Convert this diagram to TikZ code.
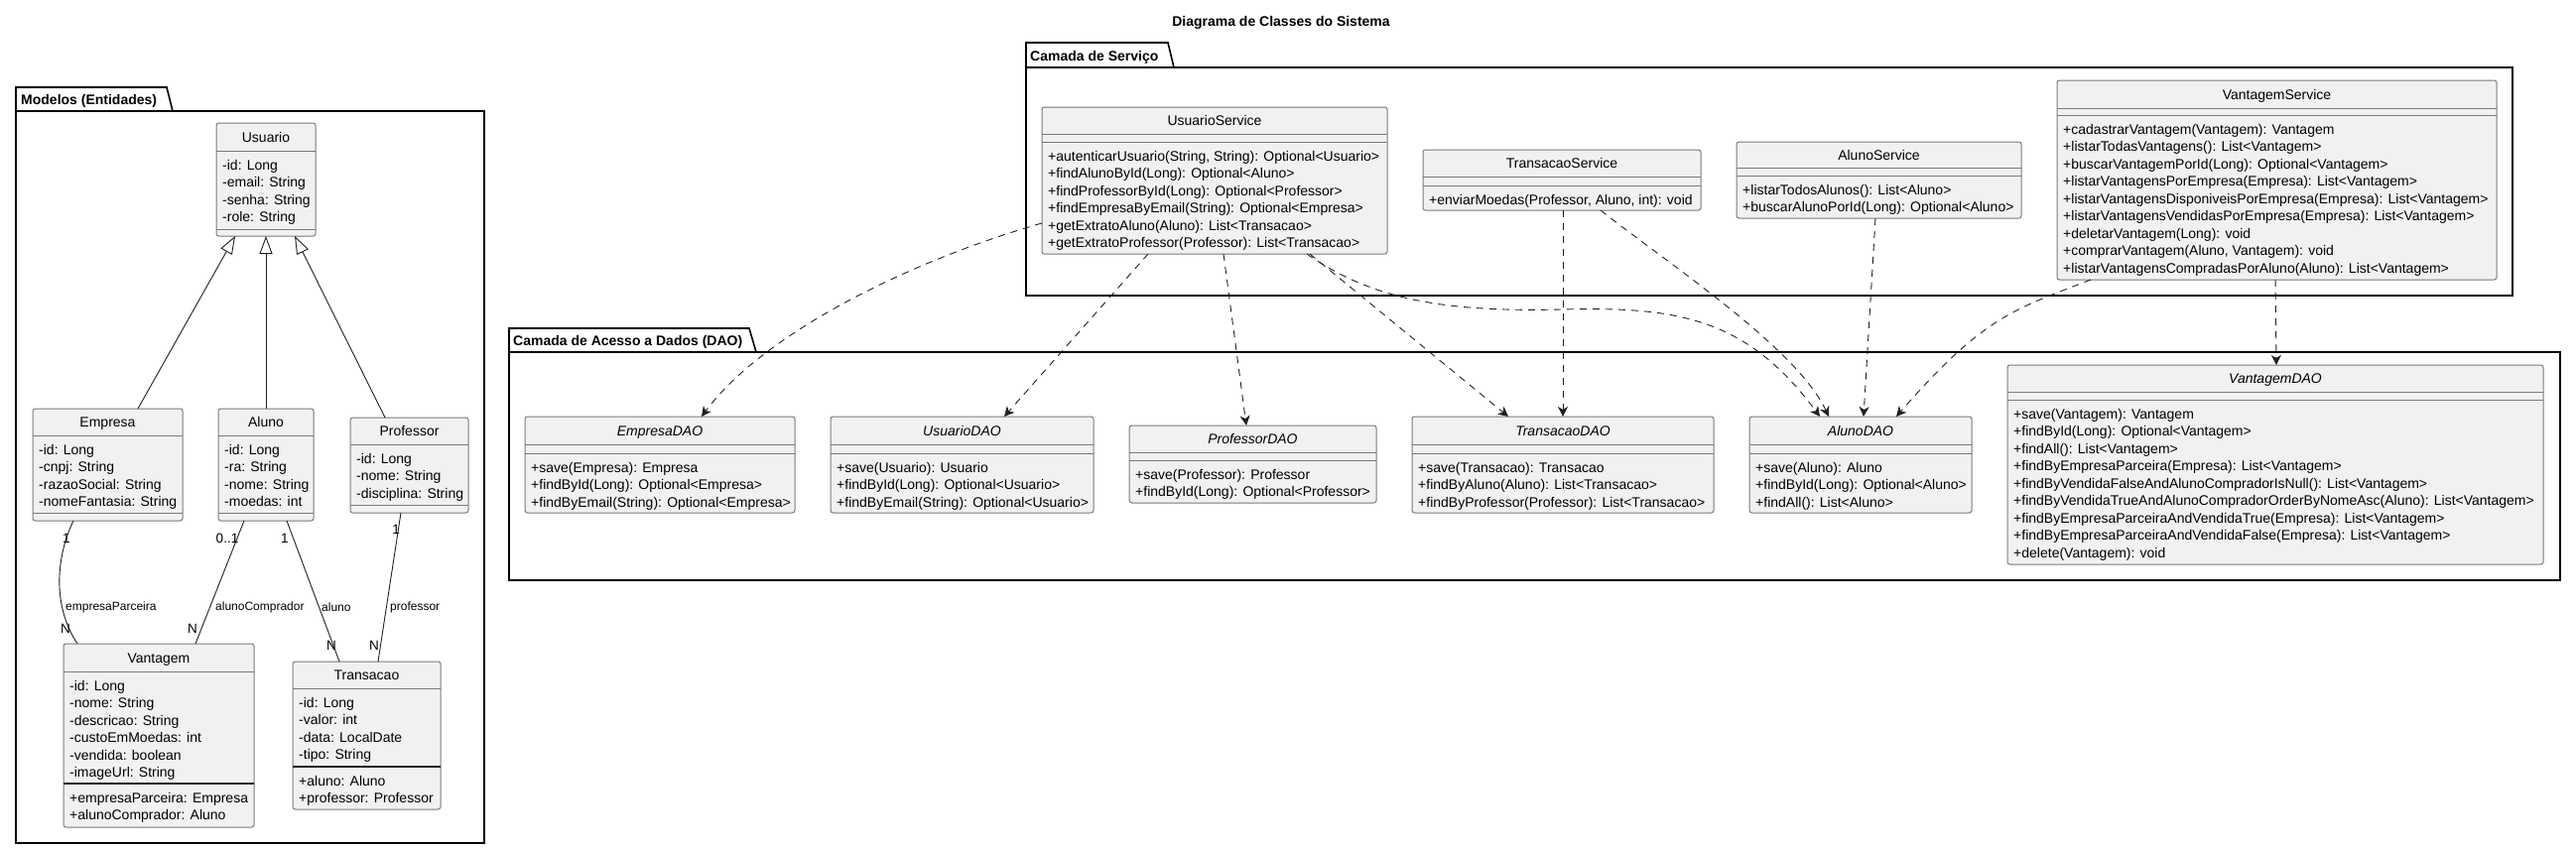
\documentclass[tikz,border=0pt]{standalone}
\usepackage{fontspec}
\setmainfont{Liberation Sans}
\usetikzlibrary{arrows.meta,calc}
\definecolor{clsfill}{HTML}{F1F1F1}
\definecolor{clsborder}{HTML}{7A7A7A}
\definecolor{ink}{HTML}{202020}
\tikzset{
 clsbox/.style={draw=clsborder, fill=clsfill, rounded corners=2.5pt, line width=1pt, inner sep=0pt, outer sep=0pt, anchor=north west},
 sepline/.style={draw=clsborder, line width=1pt},
 sepdark/.style={draw=ink, line width=1.3pt},
 clsname/.style={font=\fontsize{14}{17.5}\selectfont, anchor=base, inner sep=0pt},
 ifname/.style={font=\itshape\fontsize{14}{17.5}\selectfont, anchor=base, inner sep=0pt},
 members/.style={font=\fontsize{14}{17.5}\selectfont, align=left, anchor=north west, inner sep=0pt},
 pkgframe/.style={draw=black, line width=1.6pt},
 pkglabel/.style={font=\bfseries\fontsize{14}{17}\selectfont, anchor=base west, inner sep=0pt},
 inherit/.style={draw=ink, line width=0.9pt, -{Triangle[length=18pt, width=13pt, fill=white]}},
 assoc/.style={draw=ink, line width=0.9pt},
 dep/.style={draw=ink, line width=0.9pt, dash pattern=on 7pt off 6pt, -{Stealth[length=10pt, width=10pt, inset=3pt]}},
 mult/.style={font=\fontsize{13.5}{16}\selectfont, inner sep=0pt},
 role/.style={font=\fontsize{12}{14}\selectfont, anchor=west, inner sep=0pt},
}
% name, x1, y1, x2, y2, sep1, title style, title
\newcommand\umlclass[8]{%
  \node[clsbox, minimum width={#4-#2}, minimum height={#5-#3}] (#1) at (#2,#3) {};
  \node[#7] (#1-title) at ({(#2+#4)/2},{(#3+#6)/2+5}) {#8};
  \draw[sepline] (#2,#6) -- (#4,#6);
}
\newcommand\umlsep[4][sepline]{\draw[#1] (#2,#4) -- (#3,#4);}
% x1, first baseline, lines
\newcommand\umlmembers[3]{\node[members] at ({#1+6},{#2-12}) {\rule{0pt}{12pt}#3};}
\begin{document}
\begin{tikzpicture}[x=1pt,y=-1pt]
\fill[white] (0,0) rectangle (2596,855);
\useasboundingbox (0,0) rectangle (2596,855);

\node[font=\bfseries\fontsize{14}{17}\selectfont, anchor=base, inner sep=0pt] (title) at (1291,26) {Diagrama de Classes do Sistema};

% ---------- packages ----------
\draw[pkgframe] (16,112) -- (16,88) -- (168,88) -- (174,112);
\draw[pkgframe] (16,112) rectangle (488,850);
\node[pkglabel] (pkgmod) at (21,105) {Modelos (Entidades)};

\draw[pkgframe] (1034,68) -- (1034,43) -- (1177,43) -- (1183,68);
\draw[pkgframe] (1034,68) rectangle (2532,298);
\node[pkglabel] (pkgsrv) at (1038,61) {Camada de Serviço};

\draw[pkgframe] (513,355) -- (513,331) -- (755,331) -- (762,355);
\draw[pkgframe] (513,355) rectangle (2580,585);
\node[pkglabel] (pkgdao) at (517,348) {Camada de Acesso a Dados (DAO)};

% ---------- entities ----------
\umlclass{usuario}{218}{124}{318}{238}{152}{clsname}{Usuario}
\umlsep{218}{318}{231}
\umlmembers{218}{171}{-id: Long\\-email: String\\-senha: String\\-role: String}

\umlclass{empresa}{33}{412}{184}{525}{439}{clsname}{Empresa}
\umlsep{33}{184}{517}
\umlmembers{33}{458}{-id: Long\\-cnpj: String\\-razaoSocial: String\\-nomeFantasia: String}

\umlclass{aluno}{220}{412}{316}{525}{439}{clsname}{Aluno}
\umlsep{220}{316}{517}
\umlmembers{220}{458}{-id: Long\\-ra: String\\-nome: String\\-moedas: int}

\umlclass{professor}{353}{421}{472}{517}{448}{clsname}{Professor}
\umlsep{353}{472}{509}
\umlmembers{353}{467}{-id: Long\\-nome: String\\-disciplina: String}

\umlclass{vantagem}{64}{649}{256}{834}{677}{clsname}{Vantagem}
\umlmembers{64}{696}{-id: Long\\-nome: String\\-descricao: String\\-custoEmMoedas: int\\-vendida: boolean\\-imageUrl: String}
\umlsep[sepdark]{64}{256}{790}
\umlmembers{64}{809}{+empresaParceira: Empresa\\+alunoComprador: Aluno}

\umlclass{transacao}{295}{667}{444}{816}{694}{clsname}{Transacao}
\umlmembers{295}{713}{-id: Long\\-valor: int\\-data: LocalDate\\-tipo: String}
\umlsep[sepdark]{295}{444}{773}
\umlmembers{295}{792}{+aluno: Aluno\\+professor: Professor}

% ---------- services ----------
\umlclass{usuarioservice}{1050}{108}{1398}{256}{135}{clsname}{UsuarioService}
\umlsep{1050}{1398}{143}
\umlmembers{1050}{162}{+autenticarUsuario(String, String): Optional<Usuario>\\+findAlunoById(Long): Optional<Aluno>\\+findProfessorById(Long): Optional<Professor>\\+findEmpresaByEmail(String): Optional<Empresa>\\+getExtratoAluno(Aluno): List<Transacao>\\+getExtratoProfessor(Professor): List<Transacao>}

\umlclass{transacaoservice}{1434}{151}{1714}{212}{178}{clsname}{TransacaoService}
\umlsep{1434}{1714}{187}
\umlmembers{1434}{206}{+enviarMoedas(Professor, Aluno, int): void}

\umlclass{alunoservice}{1750}{143}{2037}{220}{169}{clsname}{AlunoService}
\umlsep{1750}{2037}{177}
\umlmembers{1750}{196}{+listarTodosAlunos(): List<Aluno>\\+buscarAlunoPorId(Long): Optional<Aluno>}

\umlclass{vantagemservice}{2073}{81}{2516}{282}{109}{clsname}{VantagemService}
\umlsep{2073}{2516}{116}
\umlmembers{2073}{135}{+cadastrarVantagem(Vantagem): Vantagem\\+listarTodasVantagens(): List<Vantagem>\\+buscarVantagemPorId(Long): Optional<Vantagem>\\+listarVantagensPorEmpresa(Empresa): List<Vantagem>\\+listarVantagensDisponiveisPorEmpresa(Empresa): List<Vantagem>\\+listarVantagensVendidasPorEmpresa(Empresa): List<Vantagem>\\+deletarVantagem(Long): void\\+comprarVantagem(Aluno, Vantagem): void\\+listarVantagensCompradasPorAluno(Aluno): List<Vantagem>}

% ---------- DAOs ----------
\umlclass{empresadao}{529}{420}{801}{517}{448}{ifname}{EmpresaDAO}
\umlsep{529}{801}{457}
\umlmembers{529}{476}{+save(Empresa): Empresa\\+findById(Long): Optional<Empresa>\\+findByEmail(String): Optional<Empresa>}

\umlclass{usuariodao}{837}{420}{1102}{517}{448}{ifname}{UsuarioDAO}
\umlsep{837}{1102}{457}
\umlmembers{837}{476}{+save(Usuario): Usuario\\+findById(Long): Optional<Usuario>\\+findByEmail(String): Optional<Usuario>}

\umlclass{professordao}{1138}{429}{1387}{507}{456}{ifname}{ProfessorDAO}
\umlsep{1138}{1387}{464}
\umlmembers{1138}{483}{+save(Professor): Professor\\+findById(Long): Optional<Professor>}

\umlclass{transacaodao}{1423}{420}{1727}{517}{448}{ifname}{TransacaoDAO}
\umlsep{1423}{1727}{457}
\umlmembers{1423}{476}{+save(Transacao): Transacao\\+findByAluno(Aluno): List<Transacao>\\+findByProfessor(Professor): List<Transacao>}

\umlclass{alunodao}{1763}{420}{1987}{517}{448}{ifname}{AlunoDAO}
\umlsep{1763}{1987}{457}
\umlmembers{1763}{476}{+save(Aluno): Aluno\\+findById(Long): Optional<Aluno>\\+findAll(): List<Aluno>}

\umlclass{vantagemdao}{2023}{368}{2563}{569}{395}{ifname}{VantagemDAO}
\umlsep{2023}{2563}{403}
\umlmembers{2023}{422}{+save(Vantagem): Vantagem\\+findById(Long): Optional<Vantagem>\\+findAll(): List<Vantagem>\\+findByEmpresaParceira(Empresa): List<Vantagem>\\+findByVendidaFalseAndAlunoCompradorIsNull(): List<Vantagem>\\+findByVendidaTrueAndAlunoCompradorOrderByNomeAsc(Aluno): List<Vantagem>\\+findByEmpresaParceiraAndVendidaTrue(Empresa): List<Vantagem>\\+findByEmpresaParceiraAndVendidaFalse(Empresa): List<Vantagem>\\+delete(Vantagem): void}

% ---------- inheritance ----------
\draw[inherit] ([xshift=30.5pt]empresa.north) -- ([xshift=-31pt]usuario.south);
\draw[inherit] (aluno.north) -- (usuario.south);
\draw[inherit] ([xshift=-24.5pt]professor.north) -- ([xshift=29pt]usuario.south);

% ---------- associations ----------
\draw[assoc] ([xshift=-34.5pt]empresa.south) .. controls (57,560) and (52,610) .. ([xshift=-82pt]vantagem.north);
\draw[assoc] ([xshift=-22pt]aluno.south) -- ([xshift=37pt]vantagem.north);
\draw[assoc] ([xshift=21pt]aluno.south) -- ([xshift=-27.5pt]transacao.north);
\draw[assoc] ([xshift=-8.5pt]professor.south) -- ([xshift=11.5pt]transacao.north);

\node[mult] (m1a) at (67,543) {1};
\node[mult] (m1b) at (66,634) {N};
\node[role] (r1) at (66,612) {empresaParceira};
\node[mult] (m2a) at (229,543) {0..1};
\node[mult] (m2b) at (194,634) {N};
\node[role] (r2) at (217,612) {alunoComprador};
\node[mult] (m3a) at (287,543) {1};
\node[mult] (m3b) at (334,651) {N};
\node[role] (r3) at (324,612) {aluno};
\node[mult] (m4a) at (399,534) {1};
\node[mult] (m4b) at (377,651) {N};
\node[role] (r4) at (393,612) {professor};

% ---------- dependencies ----------
\draw[dep] ([yshift=-43pt]usuarioservice.west) .. controls (920,262) and (770,335) .. ([xshift=42pt]empresadao.north);
\draw[dep] ([xshift=-67pt]usuarioservice.south) -- ([xshift=42.5pt]usuariodao.north);
\draw[dep] ([xshift=9pt]usuarioservice.south) -- ([xshift=-6.5pt]professordao.north);
\draw[dep] ([xshift=96pt]usuarioservice.south) -- ([xshift=-55pt]transacaodao.north);
\draw[dep] ([xshift=93pt]usuarioservice.south) .. controls (1380,300) and (1450,315) .. (1573,312) .. controls (1690,309) and (1760,320) .. ([xshift=-41pt]alunodao.north);
\draw[dep] ([xshift=1pt]transacaoservice.south) -- (transacaodao.north);
\draw[dep] ([xshift=39pt]transacaoservice.south) .. controls (1680,265) and (1810,350) .. ([xshift=-32pt]alunodao.north);
\draw[dep] ([xshift=-3.5pt]alunoservice.south) -- ([xshift=3pt]alunodao.north);
\draw[dep] ([xshift=-187.5pt]vantagemservice.south) .. controls (2030,312) and (2000,318) .. ([xshift=36pt]alunodao.north);
\draw[dep] ([xshift=-1.5pt]vantagemservice.south) -- ([xshift=1pt]vantagemdao.north);
\end{tikzpicture}
\end{document}
